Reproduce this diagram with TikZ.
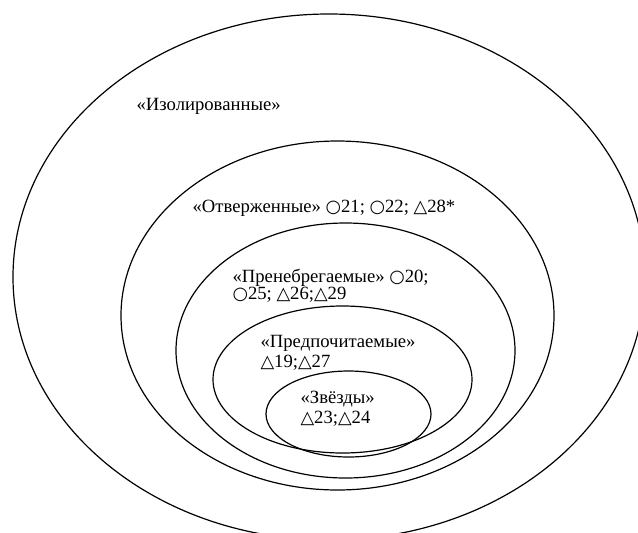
\documentclass[tikz,border=0pt]{standalone}
\usepackage{fontspec}
\setmainfont{Liberation Serif}
\newfontfamily\symb[Scale=0.95]{DejaVu Sans}
\newcommand{\krug}{{\symb ○}}
\newcommand{\treug}{{\symb △}}
\usetikzlibrary{positioning}

\begin{document}
\begin{tikzpicture}[x=0.75pt, y=-0.75pt, line width=0.9pt,
        lbl/.style={anchor=base west, inner sep=0pt, align=left, font=\fontsize{14}{15}\selectfont}]
            \clip (0,0) rectangle (638,532);

            % Draw ellipses
            \coordinate (c1) at (329,277);
            \coordinate (c2) at (337.5,315.5);
            \coordinate (c3) at (345.5,350.5);
            \coordinate (c4) at (342.5,379.5);
            \coordinate (c5) at (348.5,414);
            \draw (c1) ellipse [x radius=316, y radius=263];
            \draw (c2) ellipse [x radius=216.5, y radius=174.5];
            \draw (c3) ellipse [x radius=169.5, y radius=127.5];
            \draw (c4) ellipse [x radius=129.5, y radius=73.5];
            \draw (c5) ellipse [x radius=82.5, y radius=43];

            % Labels (base = last line)
            \node[lbl] (izol) at (136,110) {«Изолированные»};
            \node[lbl] (otv) at (192,212) {«Отверженные» \krug21; \krug22; \treug28*};
            \node[lbl] (pren) at (232,299) {«Пренебрегаемые» \krug20;\\[-2.25pt]\krug25; \treug26;\treug29};
            \node[lbl] (pred) at (260,367) {«Предпочитаемые»\\\treug19;\treug27};
            \node[lbl] (zvezd) at (300,423) {«Звёзды»\\\treug23;\treug24};
        \end{tikzpicture}
\end{document}
